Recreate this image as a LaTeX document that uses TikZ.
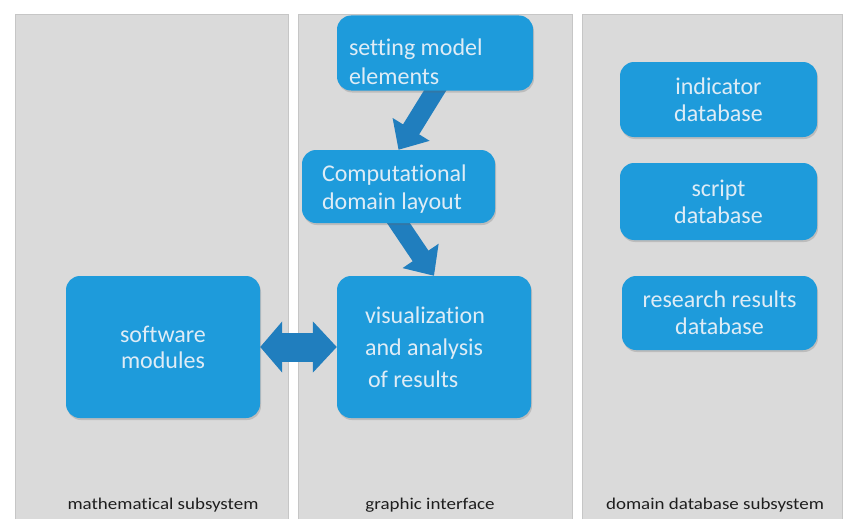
\documentclass[tikz,border=0pt]{standalone}
\usepackage{fontspec}
\setmainfont{Carlito}[Ligatures=NoCommon]
\usetikzlibrary{arrows.meta,shadows}
\pgfdeclarelayer{panels}
\pgfdeclarelayer{links}
\pgfsetlayers{panels,links,main}

\definecolor{panelfill}{RGB}{218,218,218}
\definecolor{panelline}{RGB}{198,198,198}
\definecolor{boxfill}{RGB}{30,155,219}
\definecolor{arrowfill}{RGB}{32,126,190}
\definecolor{boxtext}{RGB}{222,236,246}
\definecolor{labeltext}{RGB}{30,30,30}

\tikzset{
  panel/.style={fill=panelfill},
  paneledge/.style={draw=panelline, line width=1pt},
  block/.style={fill=boxfill, rounded corners=14pt, text=boxtext,
    font=\fontsize{24}{28.5}\selectfont, inner sep=0pt,
    drop shadow={shadow xshift=1pt, shadow yshift=-2pt, opacity=0.25, fill=black!60}},
  centred/.style={align=center},
  flush/.style={align=flush left, text width=#1,
    execute at begin node={\spaceskip=5.4pt\relax}},
  sublabel/.style={text=labeltext, font=\fontsize{16.5}{19}\selectfont, inner sep=0pt},
  flow/.style={draw=arrowfill, line width=19pt, shorten <=-10pt,
    -{Triangle[length=24pt, width=42pt]}, arrowfill},
  exchange/.style={draw=arrowfill, line width=29pt,
    {Triangle[length=22pt, width=50pt]}-{Triangle[length=24pt, width=50pt]}, arrowfill}
}

\begin{document}
\begin{tikzpicture}[x=1pt, y=-1pt]
\useasboundingbox (0,0) rectangle (845,519);

% three subsystem panels
\begin{pgfonlayer}{panels}
  \fill[white] (0,0) rectangle (845,519);
  \foreach \l/\r in {15/288, 298/572, 582/842} {
    \fill[panel] (\l,15) rectangle (\r,519);
    \draw[paneledge] (\l,519) -- (\l,15) -- (\r,15) -- (\r,519);
  }
\end{pgfonlayer}

% graphic interface
\node[block, flush=172pt, minimum width=196pt, minimum height=75pt, inner xsep=12pt]
  (set) at (435,53) {\rule{0pt}{34pt}setting model\\elements};
\node[block, flush=153pt, minimum width=193pt, minimum height=73pt, inner xsep=20pt]
  (comp) at (398.5,186.5) {\rule{0pt}{22pt}Computational\\domain layout};
\node[block, flush=138pt, minimum width=194pt, minimum height=142pt, inner xsep=28pt,
  font=\fontsize{24}{32}\selectfont]
  (vis) at (434,347) {visualization\\and analysis\\\hspace*{3pt}of results};

% mathematical subsystem
\node[block, centred, minimum width=194pt, minimum height=142pt, font=\fontsize{24}{26}\selectfont]
  (soft) at (163,347) {software\\modules};

% domain database subsystem
\node[block, centred, minimum width=197pt, minimum height=75pt, font=\fontsize{24}{27}\selectfont]
  (ind) at (718.5,99.5) {indicator\\database};
\node[block, centred, minimum width=197pt, minimum height=77pt, font=\fontsize{24}{27}\selectfont]
  (scr) at (718.5,201.5) {script\\database};
\node[block, centred, minimum width=195pt, minimum height=74pt, font=\fontsize{24}{27}\selectfont]
  (res) at (719.5,313) {research results\\database};

% connectors
\begin{pgfonlayer}{links}
  \draw[flow] (set.south) -- (comp.north);
  \draw[flow] (comp.south) -- (vis.north);
  \draw[exchange] (soft.east) -- (vis.west);
\end{pgfonlayer}

% panel captions
\node[sublabel] (capmath) at (163,505) {\scalebox{1.15}[1]{mathematical subsystem}};
\node[sublabel] (capgui) at (430,505) {\scalebox{1.15}[1]{graphic interface}};
\node[sublabel] (capdb) at (715,505) {\scalebox{1.15}[1]{domain database subsystem}};
\end{tikzpicture}
\end{document}
